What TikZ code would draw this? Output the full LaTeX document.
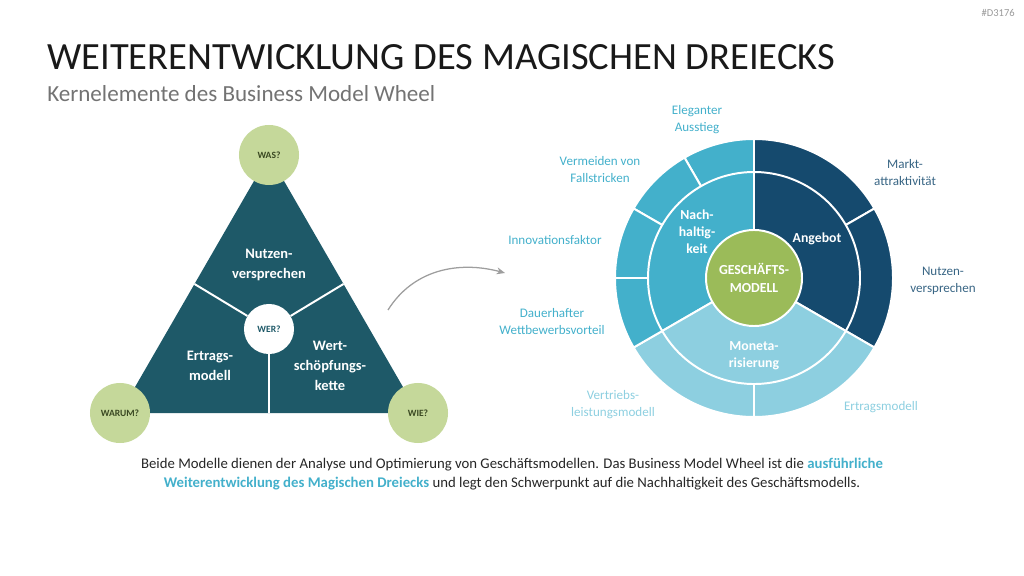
\documentclass[tikz,border=0pt]{standalone}
\usepackage{fontspec}
\setmainfont{Carlito}
\usetikzlibrary{arrows.meta, positioning, calc}

\definecolor{triteal}{RGB}{30,89,104}
\definecolor{leafgreen}{RGB}{197,216,154}
\definecolor{leaftext}{RGB}{58,72,34}
\definecolor{wheeldark}{RGB}{21,74,110}
\definecolor{wheelmid}{RGB}{67,176,203}
\definecolor{wheellight}{RGB}{141,207,224}
\definecolor{coregreen}{RGB}{155,187,89}
\definecolor{bodygray}{RGB}{38,38,38}

\begin{document}
\begin{tikzpicture}[
		x=0.025cm, y=0.025cm,
		% Style for the question circles at the corners
		qcircle/.style={
			circle, fill=leafgreen, minimum size=1.5cm, inner sep=0pt,
			font=\fontsize{6.8}{8}\selectfont\bfseries, text=leaftext
		},
		% Style for the labels inside the triangle and the wheel
		tritext/.style={text=white, align=center, font=\fontsize{10.3}{14}\selectfont\bfseries},
		wheeltext/.style={text=white, align=center, font=\fontsize{9.8}{12.2}\selectfont\bfseries},
		outerlabel/.style={align=center, font=\fontsize{9.3}{12.1}\selectfont},
		divider/.style={draw=white, line width=1.4pt},
		sector/.style={draw=white, line width=1.4pt}
		]
		\useasboundingbox (0,0) rectangle (1024,-576);
		
		% --- HEADER ---
		\node[anchor=base east, inner sep=0pt, text=black!40, font=\fontsize{7.5}{9}\selectfont] (tag) at (1015,-17) {\#D3176};
		\node[anchor=base west, inner sep=0pt, text=black!90, font=\fontsize{27.4}{32}\selectfont] (title) at (47,-70) {WEITERENTWICKLUNG DES MAGISCHEN DREIECKS};
		\node[below=0.775cm of title.base west, anchor=base west, inner sep=0pt, text=black!55, font=\fontsize{16.4}{20}\selectfont] (subtitle) {Kernelemente des Business Model Wheel};
		
		% --- 1. MAGISCHES DREIECK ---
		\coordinate (tA) at (120,-413);
		\coordinate (tB) at (418,-413);
		\coordinate (tC) at (269,-155);
		\fill[triteal] (tA) -- (tB) -- (tC) -- cycle;
		\node[circle, fill=white, minimum size=1.25cm, inner sep=0pt, text=triteal,
			font=\fontsize{6.8}{8}\selectfont\bfseries] (wer) at (269,-329) {WER?};
		\draw[divider] (wer) -- ($(tA)!0.5!(tC)$);
		\draw[divider] (wer) -- ($(tB)!0.5!(tC)$);
		\draw[divider] (wer) -- ($(tA)!0.5!(tB)$);
		
		\node[qcircle] (was) at (tC) {WAS?};
		\node[qcircle] (warum) at (tA) {WARUM?};
		\node[qcircle] (wie) at (tB) {WIE?};
		
		\node[tritext] (nutzen) at (269,-265) {Nutzen-\\versprechen};
		\node[tritext] (ertrag) at (210,-366) {Ertrags-\\modell};
		\node[tritext] (wert) at (330,-366) {Wert-\\schöpfungs-\\kette};
		
		% --- ARROW ---
		\coordinate (arrS) at (388,-310);
		\coordinate (arrE) at (505,-273);
		\draw[-{Stealth[length=6pt, width=5pt]}, black!38, line width=0.9pt] (arrS) to[out=58, in=165] (arrE);
		
		% --- 2. BUSINESS MODEL WHEEL ---
		\coordinate (hub) at (754,-278);
		% outer ring
		\foreach \a/\b/\c in {30/90/wheeldark, -30/30/wheeldark,
			210/270/wheellight, 270/330/wheellight,
			90/120/wheelmid, 120/150/wheelmid, 150/180/wheelmid, 180/210/wheelmid}
			\filldraw[sector, fill=\c] (hub) -- ++(\a:139) arc[start angle=\a, end angle=\b, radius=139] -- cycle;
		% inner ring
		\foreach \a/\b/\c in {-30/90/wheeldark, 90/210/wheelmid, 210/330/wheellight}
			\filldraw[sector, fill=\c] (hub) -- ++(\a:106) arc[start angle=\a, end angle=\b, radius=106] -- cycle;
		\node[circle, fill=coregreen, draw=white, line width=1.4pt, minimum size=2.4cm, inner sep=0pt] (core) at (hub) {};
		\node[wheeltext] (coretext) at (hub) {GESCHÄFTS-\\MODELL};
		
		\node[wheeltext] (angebot) at (817,-239) {Angebot};
		\node[wheeltext] (nachhalt) at (697,-232) {Nach-\\haltig-\\keit};
		\node[wheeltext] (moneta) at (754,-356) {Moneta-\\risierung};
		
		% outer labels
		\node[outerlabel, text=wheelmid] (ausstieg) at (697,-120) {Eleganter\\Ausstieg};
		\node[outerlabel, text=wheelmid] (fallstr) at (600,-170) {Vermeiden von\\Fallstricken};
		\node[outerlabel, text=wheelmid] (innov) at (555,-240) {Innovationsfaktor};
		\node[outerlabel, text=wheelmid] (vorteil) at (552,-322) {Dauerhafter\\Wettbewerbsvorteil};
		\node[outerlabel, text=wheellight] (vertrieb) at (613,-405) {Vertriebs-\\leistungsmodell};
		\node[outerlabel, text=wheellight] (ertragsm) at (881,-407) {Ertragsmodell};
		\node[outerlabel, text=wheeldark!85] (nutzenv) at (943,-281) {Nutzen-\\versprechen};
		\node[outerlabel, text=wheeldark!85] (markt) at (905,-173) {Markt-\\attraktivität};
		
		% --- SUMMARY ---
		\node[align=center, text=bodygray, font=\fontsize{10.5}{13.6}\selectfont] (summary) at (512,-474)
			{Beide Modelle dienen der Analyse und Optimierung von Geschäftsmodellen. Das Business Model Wheel ist die \textcolor{wheelmid}{\textbf{ausführliche}}\\
			\textcolor{wheelmid}{\textbf{Weiterentwicklung des Magischen Dreiecks}} und legt den Schwerpunkt auf die Nachhaltigkeit des Geschäftsmodells.};
		
	\end{tikzpicture}
\end{document}
